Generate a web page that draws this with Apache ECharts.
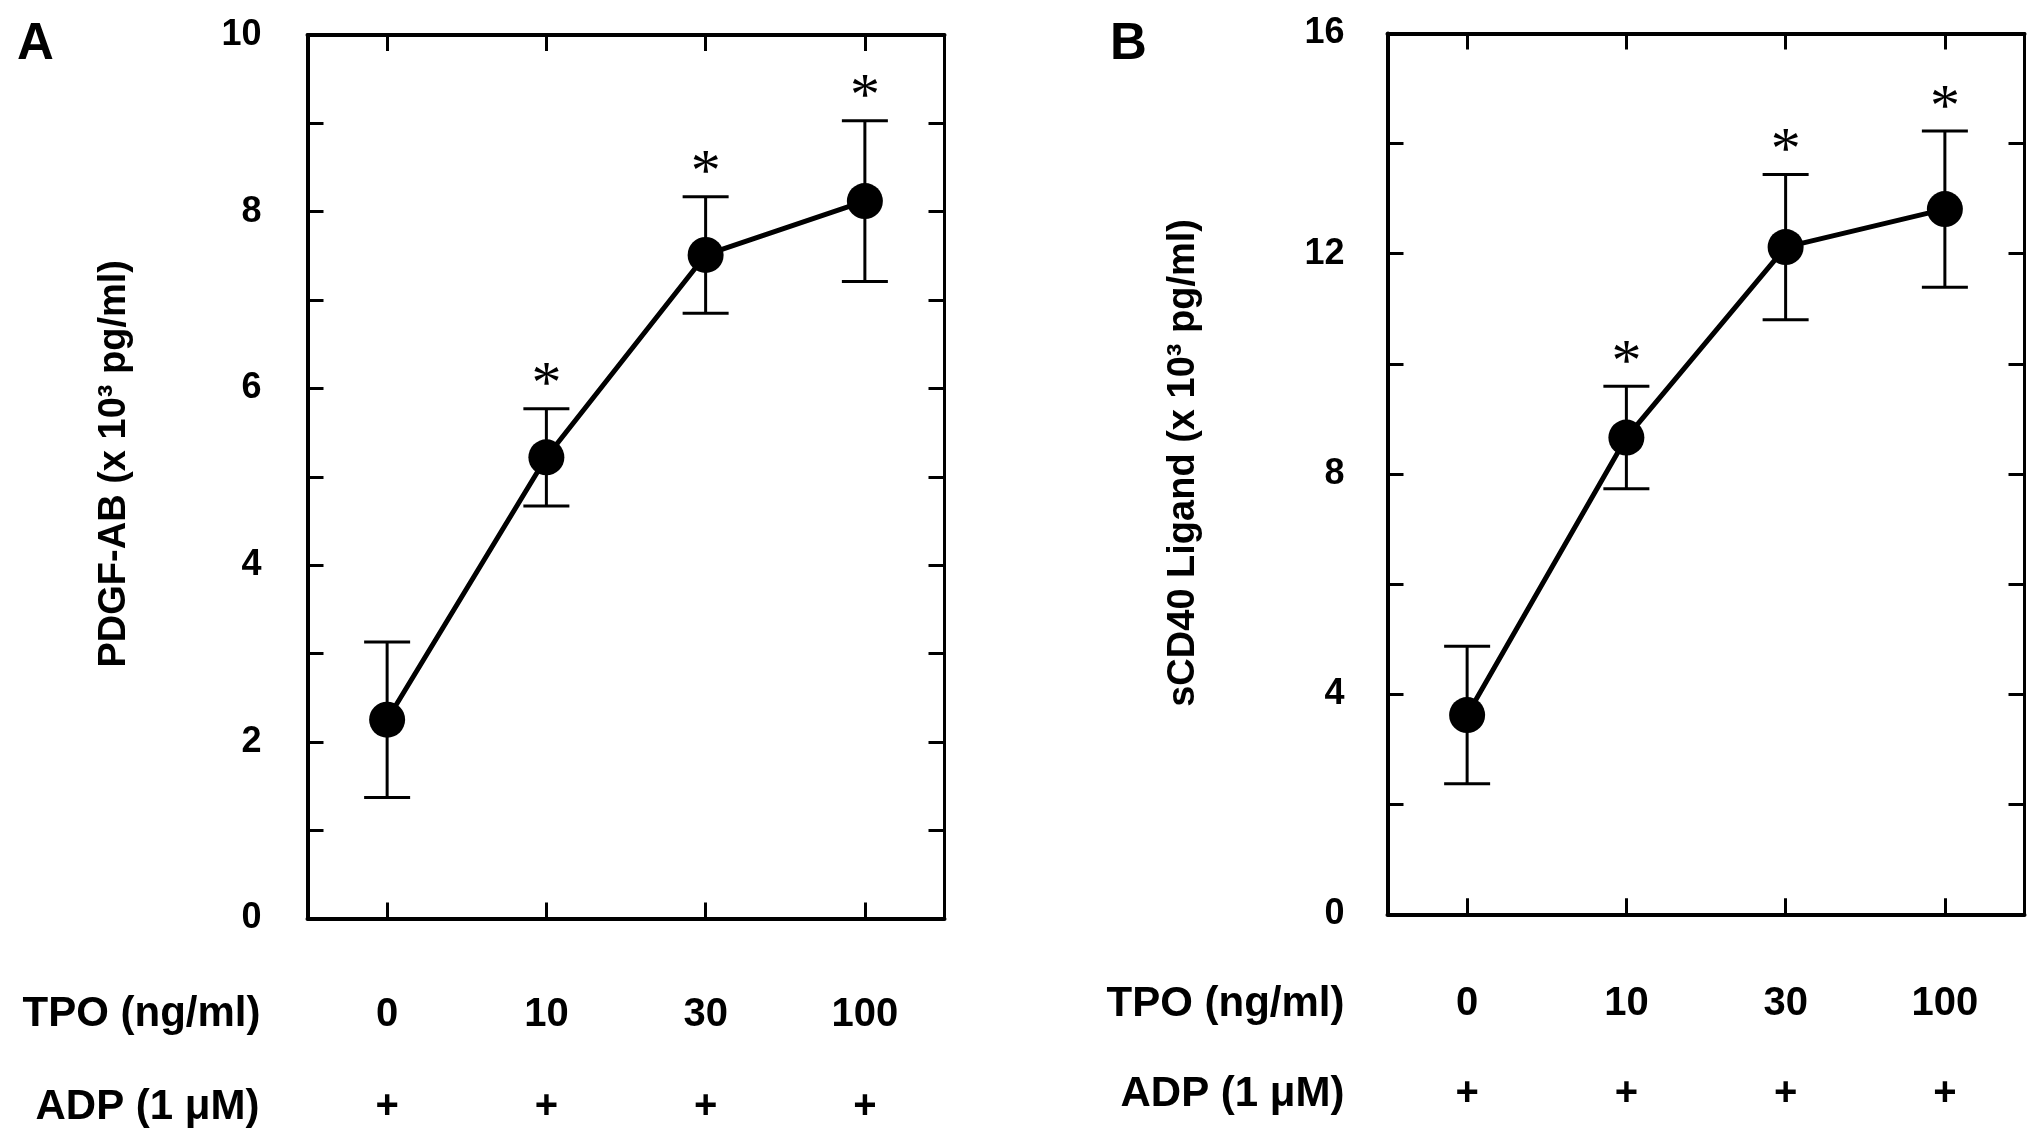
<!DOCTYPE html>
<html>
<head>
<meta charset="utf-8">
<script src="https://cdn.jsdelivr.net/npm/echarts@6/dist/echarts.min.js"></script>
<style>
html,body{margin:0;padding:0;background:#fff;}
#chart{width:2043px;height:1147px;}
</style>
</head>
<body>
<div id="chart"></div>
<script>
// ---- data ----
var tpoCategories = ['0', '10', '30', '100'];
var adpRow = ['+', '+', '+', '+'];
var pdgfMean = [2.25, 5.22, 7.51, 8.12];
var pdgfErr = [0.88, 0.55, 0.66, 0.91];
var cd40Mean = [3.62, 8.66, 12.12, 12.81];
var cd40Err = [1.25, 0.93, 1.32, 1.42];
var significant = [false, true, true, true];
var pdgfTicks = {min: 0, max: 10, interval: 2};
var cd40Ticks = {min: 0, max: 16, interval: 4};

var FONT = '"Liberation Sans", Arial, Helvetica, sans-serif';
var BLACK = '#000';

function errData(mean, err) {
  return mean.map(function (m, i) { return [i, m, err[i], significant[i] ? 1 : 0]; });
}

function renderErr(params, api) {
  var x = api.value(0), m = api.value(1), e = api.value(2), s = api.value(3);
  var top = api.coord([x, m + e]);
  var bot = api.coord([x, m - e]);
  var hw = 23;
  var ls = {stroke: BLACK, lineWidth: 3};
  var children = [
    {type: 'line', shape: {x1: top[0], y1: top[1], x2: bot[0], y2: bot[1]}, style: ls},
    {type: 'line', shape: {x1: top[0] - hw, y1: top[1], x2: top[0] + hw, y2: top[1]}, style: ls},
    {type: 'line', shape: {x1: bot[0] - hw, y1: bot[1], x2: bot[0] + hw, y2: bot[1]}, style: ls}
  ];
  if (s) {
    children.push({type: 'text', style: {text: '*', x: top[0], y: top[1] - 22,
      fontSize: 60, fontFamily: '"Liberation Serif", "Times New Roman", serif',
      align: 'center', verticalAlign: 'middle', fill: BLACK}});
  }
  return {type: 'group', children: children};
}

function makeX(gi, pos, offset, data, showLine, labelShow, name, nameGap) {
  var ax = {
    gridIndex: gi, type: 'category', data: data, position: pos, offset: offset,
    boundaryGap: true,
    axisLine: {show: showLine, onZero: false, lineStyle: {color: BLACK, width: 4}},
    axisTick: {show: showLine, inside: true, alignWithLabel: true, length: 16, lineStyle: {color: BLACK, width: 3}},
    axisLabel: {show: labelShow, margin: 0, verticalAlign: 'middle', color: BLACK, fontSize: 40, fontWeight: 'bold', fontFamily: FONT},
    splitLine: {show: false}
  };
  if (name) {
    ax.name = name; ax.nameLocation = 'start'; ax.nameGap = nameGap;
    ax.nameTextStyle = {color: BLACK, fontSize: 42, fontWeight: 'bold', fontFamily: FONT, align: 'right', verticalAlign: 'middle'};
  }
  return ax;
}

function makeY(gi, pos, ticks, lineW, labelShow, margin, name, nameGap, shiftUp) {
  var ax = {
    gridIndex: gi, type: 'value', position: pos, min: ticks.min, max: ticks.max, interval: ticks.interval,
    axisLine: {show: true, onZero: false, lineStyle: {color: BLACK, width: lineW}},
    axisTick: {show: true, inside: true, length: 16, lineStyle: {color: BLACK, width: 3}},
    minorTick: {show: true, splitNumber: 2, length: 16, lineStyle: {color: BLACK, width: 3}},
    axisLabel: {show: labelShow, margin: margin, color: BLACK, fontSize: 36, fontWeight: 'bold', fontFamily: FONT},
    splitLine: {show: false}, minorSplitLine: {show: false}
  };
  if (name) {
    ax.name = name; ax.nameLocation = 'middle'; ax.nameGap = nameGap;
    ax.nameTextStyle = {color: BLACK, fontSize: 38, fontWeight: 'bold', fontFamily: FONT, padding: [0, 0, 0, shiftUp * 2]};
  }
  return ax;
}

var option = {
  backgroundColor: '#fff',
  animation: false,
  title: [
    {text: 'A', left: 17, top: 19, padding: 0, textStyle: {fontSize: 51, fontWeight: 'bold', fontFamily: FONT, color: BLACK}},
    {text: 'B', left: 1110, top: 19, padding: 0, textStyle: {fontSize: 51, fontWeight: 'bold', fontFamily: FONT, color: BLACK}}
  ],
  grid: [
    {left: 307.5, top: 35, width: 637, height: 883.5},
    {left: 1387.5, top: 33.5, width: 637, height: 880.8}
  ],
  xAxis: [
    makeX(0, 'bottom', 0, tpoCategories, true, false),
    makeX(0, 'top', 0, tpoCategories, true, false),
    makeX(0, 'bottom', 96, tpoCategories, false, true, 'TPO (ng/ml)', 47),
    makeX(0, 'bottom', 188.5, adpRow, false, true, 'ADP (1 μM)', 48),
    makeX(1, 'bottom', 0, tpoCategories, true, false),
    makeX(1, 'top', 0, tpoCategories, true, false),
    makeX(1, 'bottom', 90, tpoCategories, false, true, 'TPO (ng/ml)', 43),
    makeX(1, 'bottom', 180, adpRow, false, true, 'ADP (1 μM)', 43)
  ],
  yAxis: [
    makeY(0, 'left', pdgfTicks, 4, true, 46, 'PDGF-AB (x 10³ pg/ml)', 174, 13),
    makeY(0, 'right', pdgfTicks, 3, false, 0),
    makeY(1, 'left', cd40Ticks, 4, true, 43, 'sCD40 Ligand (x 10³ pg/ml)', 185, 11),
    makeY(1, 'right', cd40Ticks, 3, false, 0)
  ],
  series: [
    {type: 'custom', xAxisIndex: 0, yAxisIndex: 0, data: errData(pdgfMean, pdgfErr), renderItem: renderErr, encode: {x: 0, y: 1}, z: 2, silent: true},
    {type: 'line', xAxisIndex: 0, yAxisIndex: 0, data: pdgfMean, symbol: 'circle', symbolSize: 36,
      lineStyle: {color: BLACK, width: 5}, itemStyle: {color: BLACK}, z: 3},
    {type: 'custom', xAxisIndex: 4, yAxisIndex: 2, data: errData(cd40Mean, cd40Err), renderItem: renderErr, encode: {x: 0, y: 1}, z: 2, silent: true},
    {type: 'line', xAxisIndex: 4, yAxisIndex: 2, data: cd40Mean, symbol: 'circle', symbolSize: 36,
      lineStyle: {color: BLACK, width: 5}, itemStyle: {color: BLACK}, z: 3}
  ]
};

var chart = echarts.init(document.getElementById('chart'));
chart.setOption(option);
</script>
</body>
</html>
